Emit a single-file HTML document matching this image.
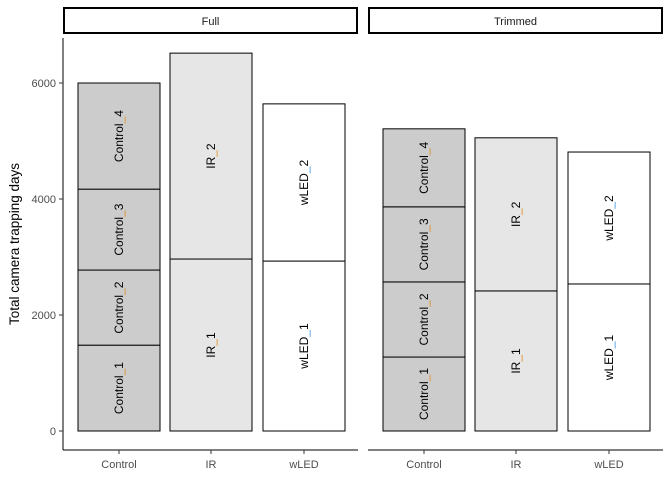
<!DOCTYPE html>
<html><head><meta charset="utf-8"><style>body{margin:0;background:#fff}svg{display:block;font-family:"Liberation Sans",Arial,sans-serif}</style></head>
<body>
<svg id="chart" width="672" height="480" viewBox="0 0 672 480"></svg>
<script>
const panels = ["Full","Trimmed"];
const categories = ["Control","IR","wLED"];
const segNames = {Control:["Control_1","Control_2","Control_3","Control_4"],IR:["IR_1","IR_2"],wLED:["wLED_1","wLED_2"]};
const fullValues = {Control:[1480,1295,1395,1830],IR:[2965,3550],wLED:[2930,2710]};
const trimmedValues = {Control:[1275,1295,1295,1345],IR:[2415,2640],wLED:[2535,2275]};
const yTicks = [0,2000,4000,6000];
const fills = {Control:"#cccccc",IR:"#e6e6e6",wLED:"#ffffff"};
const usColor = {Control:"#e08b1c",IR:"#e08b1c",wLED:"#3a8fd8"};

const NS="http://www.w3.org/2000/svg";
const svg=document.getElementById('chart');
function mk(t,a,p){const e=document.createElementNS(NS,t);for(const k in a)e.setAttribute(k,a[k]);(p||svg).appendChild(e);return e;}
const y0=431, k=348/6000;
const Y=v=>y0-v*k;
const panelX=[[63,358],[368,663]];
const catOffsets=[15,107,200], barW=82;

// y axis
const yaxis=mk('g',{});


mk('line',{x1:63,y1:38,x2:63,y2:450,stroke:'#000','stroke-width':1},yaxis);
yTicks.forEach(t=>{
  mk('line',{x1:59,y1:Y(t),x2:63,y2:Y(t),stroke:'#333'},yaxis);
  const tx=mk('text',{x:56,y:Y(t)+4,'text-anchor':'end','font-size':11,fill:'#4d4d4d'},yaxis);
  tx.textContent=t;
  
  
});
const yt=mk('text',{x:0,y:0,transform:'translate(19,244) rotate(-90)','text-anchor':'middle','font-size':13.5,fill:'#000'});
yt.textContent='Total camera trapping days';



panels.forEach((p,pi)=>{
  const [x0,x1]=panelX[pi];
  const g=mk('g',{});
  
  
  const st=mk('rect',{x:x0+1,y:8,width:x1-x0-2,height:25,fill:'#fff',stroke:'#000','stroke-width':2},g);
  
  
  const stt=mk('text',{x:(x0+x1)/2,y:25,'text-anchor':'middle','font-size':11,fill:'#1a1a1a'},g);
  stt.textContent=p;
  mk('line',{x1:x0,y1:450,x2:x1,y2:450,stroke:'#000'},g);
  const vals=pi===0?fullValues:trimmedValues;
  categories.forEach((c,ci)=>{
    const bx=x0+catOffsets[ci];
    let cum=0;
    vals[c].forEach((v,si)=>{
      const top=Y(cum+v), bot=Y(cum);
      cum+=v;
      const r=mk('rect',{x:bx,y:top,width:barW,height:bot-top,fill:fills[c],stroke:'#000','stroke-width':1},g);
      
      
      const cx=bx+barW/2+4, cy=(top+bot)/2;
      const t=mk('text',{transform:`translate(${cx},${cy}) rotate(-90)`,'text-anchor':'middle','font-size':12,fill:'#000'},g);
      const parts=segNames[c][si].split('_');
      const a=mk('tspan',{},t);a.textContent=parts[0];
      const u=mk('tspan',{fill:usColor[c]},t);u.textContent='_';
      const b=mk('tspan',{},t);b.textContent=parts[1];
      
      
    });
    const mx=bx+barW/2;
    mk('line',{x1:mx,y1:450,x2:mx,y2:454,stroke:'#333'},g);
    const xl=mk('text',{x:mx,y:468,'text-anchor':'middle','font-size':11,fill:'#4d4d4d'},g);
    xl.textContent=c;
    
    
  });
});
</script>
</body></html>
